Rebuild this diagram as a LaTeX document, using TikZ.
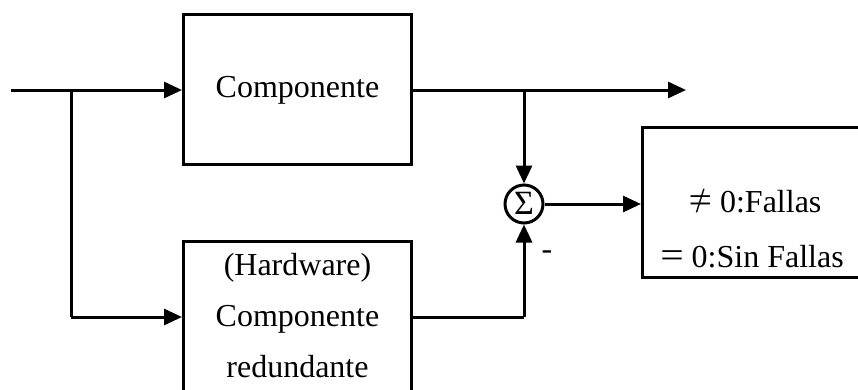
\documentclass[tikz,border=0pt]{standalone}
\usepackage{fontspec}
\setmainfont{Liberation Serif}
\usetikzlibrary{arrows.meta}
% relation signs drawn a little larger than the text font's own
\newcommand{\releq}{\scalebox{1.3}[1.15]{=}}
\newcommand{\relneq}{\ooalign{\releq\cr\hidewidth\scalebox{1}[1.1]{/}\hidewidth\cr}}
\begin{document}
\begin{tikzpicture}[x=1pt,y=-1pt,
  line width=3pt,
  font=\fontsize{32}{38}\selectfont,
  blockbox/.style={draw,line width=3pt,inner sep=0pt},
  sig/.style={-{Triangle[length=18pt,width=16pt]}},
  wire/.style={line width=3pt},
  txt/.style={inner sep=0pt,anchor=base}]
  \useasboundingbox (0,0) rectangle (858,389);
  \clip (0,0) rectangle (858,389);

  % blocks
  \node[blockbox,minimum width=228pt,minimum height=150pt] (comp) at (297.5,89) {};
  \node[blockbox,minimum width=228pt,minimum height=150pt] (red) at (297.5,316) {};
  \node[blockbox,minimum width=228pt,minimum height=150pt] (out) at (756.5,202) {};
  \node[draw,circle,line width=3pt,minimum size=38pt,inner sep=0pt] (sum) at (524,204) {};
  \node[inner sep=0pt,font=\fontsize{34}{34}\selectfont] (sigma) at (524,203) {Σ};

  % block texts
  \node[txt] (tcomp) at (297.5,97) {Componente};
  \node[txt] (thw) at (297.5,275) {(Hardware)};
  \node[txt] (tcomp2) at (297.5,326) {Componente};
  \node[txt] (tred) at (297.5,377) {redundante};
  \node[txt] (tne) at (755,212) {\relneq{} 0:Fallas};
  \node[txt] (teq) at (752,267) {\releq{} 0:Sin Fallas};
  \node[txt] (minus) at (547,259) {-};

  % junction points
  \coordinate (in) at (11,90);
  \coordinate (split) at (71,90);
  \coordinate (splitlow) at (71,317);
  \coordinate (outend) at (686,90);
  \coordinate (tap) at (524,90);
  \coordinate (low) at (524,317);

  % connectors
  \draw[wire] (in) -- (split);
  \draw[sig] (split) -- (comp.west |- split);
  \draw[wire] (split) -- (splitlow);
  \draw[sig] (splitlow) -- (red.west |- splitlow);
  \draw[sig] (comp.east |- outend) -- (outend);
  \draw[sig] (tap) -- (sum.north);
  \draw[wire] (red.east |- low) -- (low);
  \draw[sig] (low) -- (sum.south);
  \draw[sig] (sum.east) -- (out.west |- sum);
\end{tikzpicture}
\end{document}
